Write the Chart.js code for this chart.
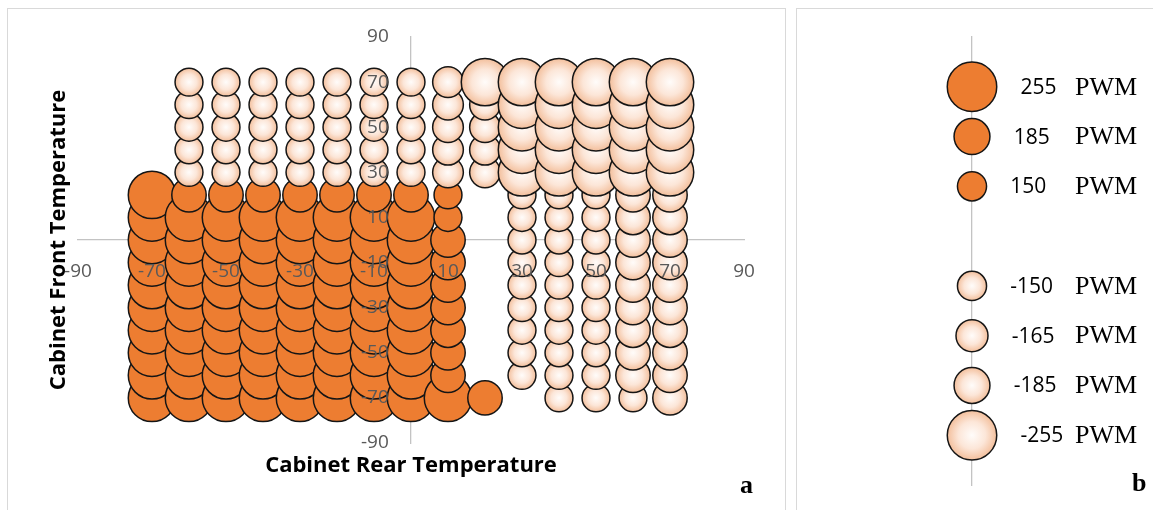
<!DOCTYPE html>
<html><head><meta charset="utf-8">
<script src="https://cdn.jsdelivr.net/npm/chart.js@4.4.1/dist/chart.umd.min.js"></script>
<style>
html,body{margin:0;padding:0;background:#fff;width:1153px;height:510px;overflow:hidden;}
.panel{position:absolute;border:1px solid #d9d9d9;box-sizing:border-box;}
#pa{left:7px;top:8px;width:779px;height:530px;}
#pb{left:796px;top:8px;width:400px;height:530px;}
canvas{position:absolute;top:0;}
#ca{left:0;}
#cb{left:790px;}
</style></head><body>
<div class="panel" id="pa"></div><div class="panel" id="pb"></div>
<canvas id="ca" width="790" height="510"></canvas>
<canvas id="cb" width="363" height="510"></canvas>
<script>
// ---------- data ----------
const rearTemps  = [-70, -60, -50, -40, -30, -20, -10, 0, 10, 20, 30, 40, 50, 60, 70];
const frontTemps = [70, 60, 50, 40, 30, 20, 10, 0, -10, -20, -30, -40, -50, -60, -70];
// PWM for each rear-temperature column, listed from front 70 (top) to front -70 (bottom); null = no bubble
const pwmRearM70 = [null, null, null, null, null, 255, 255, 255, 255, 255, 255, 255, 255, 255, 255];
const pwmRearM60 = [-150, -150, -150, -150, -150, 185, 255, 255, 255, 255, 255, 255, 255, 255, 255];
const pwmRearM50 = [-150, -150, -150, -150, -150, 185, 255, 255, 255, 255, 255, 255, 255, 255, 255];
const pwmRearM40 = [-150, -150, -150, -150, -150, 185, 255, 255, 255, 255, 255, 255, 255, 255, 255];
const pwmRearM30 = [-150, -150, -150, -150, -150, 185, 255, 255, 255, 255, 255, 255, 255, 255, 255];
const pwmRearM20 = [-150, -150, -150, -150, -150, 185, 255, 255, 255, 255, 255, 255, 255, 255, 255];
const pwmRearM10 = [-150, -150, -150, -150, -150, 185, 255, 255, 255, 255, 255, 255, 255, 255, 255];
const pwmRear0   = [-150, -150, -150, -150, -150, 185, 255, 255, 255, 255, 255, 255, 255, 255, 255];
const pwmRear10  = [-165, -165, -165, -165, -165, 150, 150, 185, 185, 185, 185, 185, 185, 185, 255];
const pwmRear20  = [-255, -165, -165, -165, -165, null, null, null, null, null, null, null, null, null, 185];
const pwmRear30  = [-255, -255, -255, -255, -255, -150, -150, -150, -150, -150, -150, -150, -150, -150, null];
const pwmRear40  = [-255, -255, -255, -255, -255, -150, -150, -150, -150, -150, -150, -150, -150, -150, -150];
const pwmRear50  = [-255, -255, -255, -255, -255, -150, -150, -150, -150, -150, -150, -150, -150, -150, -150];
const pwmRear60  = [-255, -255, -255, -255, -255, -185, -185, -185, -185, -185, -185, -185, -185, -185, -150];
const pwmRear70  = [-255, -255, -255, -255, -255, -185, -185, -185, -185, -185, -185, -185, -185, -185, -185];
const pwmColumns = [pwmRearM70, pwmRearM60, pwmRearM50, pwmRearM40, pwmRearM30, pwmRearM20, pwmRearM10,
                    pwmRear0, pwmRear10, pwmRear20, pwmRear30, pwmRear40, pwmRear50, pwmRear60, pwmRear70];

const xTickValues = [-90, -70, -50, -30, -10, 10, 30, 50, 70, 90];
const yTickValues = [-90, -70, -50, -30, -10, 10, 30, 50, 70, 90];
const xTitle = 'Cabinet Rear Temperature';
const yTitle = 'Cabinet Front Temperature';

const legendPWM = [255, 185, 150, null, -150, -165, -185, -255];
const legendUnit = 'PWM';

// ---------- styling ----------
const ORANGE = '#ED7D31';
const EDGE = '#151515';
const AXIS_GRAY = '#c3c3c3';
const TICK_GRAY = '#595959';
Chart.defaults.font.family = '"Open Sans", sans-serif';

function lightFill(c, k) {
  if (!c.raw) return '#fbe2d2';
  const v = c.raw.pwm;
  if (v > 0) return ORANGE;
  const xs = c.chart.scales.x, ys = c.chart.scales.y;
  const cx = xs.getPixelForValue(c.raw.x), cy = ys.getPixelForValue(c.raw.y);
  const r = Math.abs(v) * k;
  if (!isFinite(cx) || !isFinite(cy) || !(r > 0)) return '#fbe2d2';
  const g = c.chart.ctx.createRadialGradient(cx, cy, 0, cx, cy, r);
  g.addColorStop(0, '#fffcfa');
  g.addColorStop(0.55, '#fce6d8');
  g.addColorStop(1, '#f3bf9c');
  return g;
}

// ---------- panel a ----------
const K_MAIN = 0.093;
const points = [];
rearTemps.forEach((rx, ci) => {
  const col = pwmColumns[ci];
  for (let ri = frontTemps.length - 1; ri >= 0; ri--) {
    if (col[ri] !== null) points.push({x: rx, y: frontTemps[ri], pwm: col[ri]});
  }
});

const panelAText = {
  id: 'panelAText',
  afterDraw(chart) {
    const {ctx, chartArea: a} = chart;
    ctx.save();
    ctx.fillStyle = '#000';
    ctx.font = 'bold 22px "Open Sans"';
    ctx.textAlign = 'center';
    ctx.textBaseline = 'middle';
    ctx.fillText(xTitle, (a.left + a.right) / 2, a.bottom + 23);
    ctx.translate(a.left - 19, (a.top + a.bottom) / 2);
    ctx.rotate(-Math.PI / 2);
    ctx.fillText(yTitle, 0, 0);
    ctx.restore();
    ctx.save();
    ctx.fillStyle = '#000';
    ctx.font = 'bold 26px "Liberation Serif"';
    ctx.textAlign = 'left';
    ctx.textBaseline = 'alphabetic';
    ctx.fillText('a', a.right - 4, a.bottom + 50);
    ctx.restore();
  }
};

const tickFont = {size: 19, family: '"Open Sans"'};
new Chart(document.getElementById('ca'), {
  type: 'bubble',
  data: {datasets: [{
    label: 'PWM',
    data: points,
    backgroundColor: c => lightFill(c, K_MAIN),
    borderColor: EDGE,
    borderWidth: 1.5,
    radius: c => c.raw ? Math.abs(c.raw.pwm) * K_MAIN : 3
  }]},
  options: {
    responsive: false, animation: false, events: [],
    layout: {padding: {left: 78, right: 46, top: 37, bottom: 67}, autoPadding: false},
    plugins: {legend: {display: false}, tooltip: {enabled: false}},
    scales: {
      x: {type: 'linear', min: -90, max: 90, position: {y: 0},
          grid: {display: false, drawTicks: false},
          border: {display: true, color: AXIS_GRAY, width: 1.3},
          afterBuildTicks: s => { s.ticks = xTickValues.map(v => ({value: v})); },
          ticks: {z: 1, padding: 20, color: TICK_GRAY, font: tickFont, maxRotation: 0, autoSkip: false}},
      y: {type: 'linear', min: -90, max: 90, position: {x: 0},
          grid: {display: false, drawTicks: false},
          border: {display: true, color: AXIS_GRAY, width: 1.3},
          ticks: {display: false}},
      yLabels: {type: 'linear', axis: 'y', min: -90, max: 90, position: {x: -6},
          grid: {display: false, drawTicks: false},
          border: {display: false},
          afterBuildTicks: s => { s.ticks = yTickValues.map(v => ({value: v})); },
          ticks: {z: 1, color: TICK_GRAY, font: tickFont, autoSkip: false}}
    }
  },
  plugins: [panelAText]
});

// ---------- panel b ----------
const K_LEG = 0.097;
const legendPoints = [];
legendPWM.forEach((v, i) => { if (v !== null) legendPoints.push({x: 0, y: i, pwm: v}); });

const panelBText = {
  id: 'panelBText',
  afterDraw(chart) {
    const {ctx, chartArea: a} = chart;
    const meta = chart.getDatasetMeta(0);
    const axisX = chart.scales.x.getPixelForValue(0);
    ctx.save();
    ctx.fillStyle = '#000';
    ctx.textBaseline = 'middle';
    ctx.textAlign = 'left';
    meta.data.forEach((el, i) => {
      const p = legendPoints[i];
      const outer = el.options.radius + 0.75;
      ctx.font = '21px "Open Sans"';
      ctx.fillText(String(p.pwm), el.x + outer + 23, el.y + 1);
      ctx.font = '26px "Liberation Serif"';
      ctx.fillText(legendUnit, axisX + 103, el.y + 1);
    });
    ctx.font = 'bold 26px "Liberation Serif"';
    ctx.textBaseline = 'alphabetic';
    ctx.fillText('b', axisX + 160, a.bottom + 6);
    ctx.restore();
  }
};

new Chart(document.getElementById('cb'), {
  type: 'bubble',
  data: {datasets: [{
    label: 'legend',
    data: legendPoints,
    backgroundColor: c => lightFill(c, K_LEG),
    borderColor: EDGE,
    borderWidth: 1.5,
    radius: c => c.raw ? Math.abs(c.raw.pwm) * K_LEG : 3
  }]},
  options: {
    responsive: false, animation: false, events: [],
    layout: {padding: {left: 82, right: 81, top: 37, bottom: 25}, autoPadding: false},
    plugins: {legend: {display: false}, tooltip: {enabled: false}},
    scales: {
      x: {type: 'linear', min: -1, max: 1, display: false},
      y: {type: 'linear', min: -1, max: 8, reverse: true, position: {x: 0},
          grid: {display: false, drawTicks: false},
          border: {display: true, color: AXIS_GRAY, width: 1.3},
          ticks: {display: false}}
    }
  },
  plugins: [panelBText]
});
</script></body></html>
